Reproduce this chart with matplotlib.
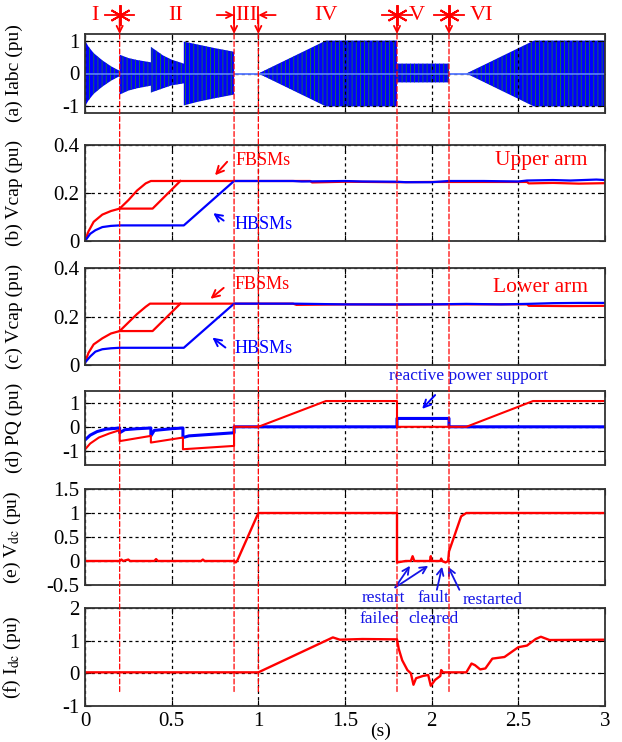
import matplotlib.pyplot as plt
from matplotlib.patches import ConnectionPatch

plt.rcParams['font.family'] = ['Liberation Serif', 'DejaVu Serif']
plt.rcParams['mathtext.fontset'] = 'stix'
plt.rcParams['hatch.linewidth'] = 0.6

RED = '#ff0000'
BLUE = '#0000ff'
TXT_BLUE = '#1414e6'

# (a) envelope of the three phase currents
env_t = [0, 0.02, 0.05, 0.1, 0.15, 0.2, 0.2, 0.25, 0.3, 0.38, 0.38, 0.45, 0.5, 0.57,
         0.57, 0.65, 0.75, 0.86, 0.86, 1.0, 1.39, 1.8, 1.8, 2.1, 2.1, 2.2, 2.59, 3.0]
env_top = [1.0, 0.82, 0.62, 0.4, 0.22, 0.08, 0.57, 0.47, 0.41, 0.34, 0.81, 0.55, 0.42, 0.3,
           0.97, 0.88, 0.77, 0.66, 0, 0, 1.0, 1.0, 0.3, 0.3, 0, 0, 1.0, 1.0]
env_bot = [-1.0, -0.82, -0.62, -0.4, -0.22, -0.08, -0.64, -0.52, -0.45, -0.37, -0.58, -0.45, -0.36, -0.3,
           -0.97, -0.86, -0.75, -0.64, 0, 0, -1.0, -1.0, -0.27, -0.27, 0, 0, -1.0, -1.0]

# (b) capacitor voltages, upper arm
b_fb1_t = [0, 0.02, 0.05, 0.1, 0.15, 0.2, 0.25, 0.3, 0.35, 0.38, 1.0, 1.3, 1.31, 1.5, 1.8, 2.0, 2.3, 2.55, 2.56, 2.7, 2.85, 3.0]
b_fb1_v = [0, 0.04, 0.08, 0.11, 0.125, 0.135, 0.17, 0.21, 0.24, 0.25, 0.25, 0.25, 0.244, 0.247, 0.245, 0.246, 0.246, 0.246, 0.24, 0.242, 0.239, 0.241]
b_fb2_t = [0.2, 0.39, 0.55]
b_fb2_v = [0.135, 0.135, 0.25]
b_hb_t = [0, 0.03, 0.06, 0.1, 0.15, 0.2, 0.57, 0.86, 1.2, 1.25, 1.5, 1.6, 1.8, 1.85, 2.0, 2.1, 2.3, 2.5, 2.55, 2.7, 2.8, 2.95, 3.0]
b_hb_v = [0, 0.03, 0.045, 0.058, 0.063, 0.065, 0.065, 0.25, 0.25, 0.248, 0.25, 0.248, 0.247, 0.245, 0.245, 0.25, 0.25, 0.248, 0.252, 0.254, 0.252, 0.256, 0.254]

# (c) capacitor voltages, lower arm
c_fb1_t = [0, 0.02, 0.05, 0.1, 0.15, 0.2, 0.25, 0.3, 0.35, 0.375, 1.2, 1.22, 1.5, 1.8, 2.0, 2.3, 2.55, 2.56, 2.8, 3.0]
c_fb1_v = [0.01, 0.05, 0.085, 0.11, 0.13, 0.14, 0.175, 0.21, 0.24, 0.253, 0.253, 0.248, 0.25, 0.249, 0.25, 0.25, 0.25, 0.244, 0.243, 0.244]
c_fb2_t = [0.2, 0.39, 0.55]
c_fb2_v = [0.14, 0.14, 0.253]
c_hb_t = [0, 0.03, 0.06, 0.1, 0.15, 0.2, 0.57, 0.86, 1.2, 1.5, 1.8, 2.0, 2.2, 2.4, 2.55, 2.7, 2.85, 3.0]
c_hb_v = [0.01, 0.035, 0.055, 0.065, 0.069, 0.071, 0.071, 0.253, 0.253, 0.25, 0.25, 0.25, 0.252, 0.25, 0.252, 0.255, 0.256, 0.256]

# (d) active / reactive power
p_t = [0, 0.03, 0.08, 0.14, 0.2, 0.2, 0.38, 0.38, 0.565, 0.565, 0.86, 0.86, 1.0, 1.39, 1.8, 1.8, 2.2, 2.585, 3.0]
p_v = [-0.95, -0.7, -0.45, -0.28, -0.14, -0.6, -0.38, -0.66, -0.45, -0.94, -0.8, 0, 0, 1.08, 1.08, 0, 0, 1.08, 1.08]
q_t = [0, 0.03, 0.07, 0.12, 0.2, 0.2, 0.23, 0.3, 0.38, 0.38, 0.4, 0.5, 0.565, 0.565, 0.6, 0.86, 0.86, 1.8, 1.8, 2.1, 2.1, 3.0]
q_v = [-0.55, -0.35, -0.2, -0.1, -0.05, -0.25, -0.12, -0.08, -0.05, -0.38, -0.15, -0.08, -0.05, -0.45, -0.38, -0.25, 0, 0, 0.35, 0.35, 0, 0]

# (e) dc voltage
vdc_t = [0, 0.2, 0.21, 0.22, 0.25, 0.26, 0.4, 0.41, 0.42, 0.67, 0.68, 0.69, 0.86, 0.87, 0.88, 1.0, 1.8,
         1.8, 1.85, 1.88, 1.89, 1.9, 1.99, 1.995, 2.0, 2.05, 2.055, 2.06, 2.08, 2.095, 2.1, 2.17, 2.2, 3.0]
vdc_v = [0, 0, 0.03, 0, 0.03, 0, 0, 0.04, 0, 0, 0.03, 0, 0, -0.03, 0.02, 1.0, 1.0,
         -0.03, 0, 0, 0.1, 0, 0, 0.1, 0, 0, 0.05, 0, -0.03, 0, 0.2, 0.93, 1.0, 1.0]

# (f) dc current
idc_t = [0, 1.0, 1.43, 1.47, 1.6, 1.8, 1.81, 1.83, 1.86, 1.88, 1.895, 1.91, 1.95, 1.98, 1.995, 2.02, 2.05,
         2.055, 2.065, 2.2, 2.23, 2.25, 2.28, 2.31, 2.35, 2.42, 2.5, 2.55, 2.6, 2.63, 2.68, 3.0]
idc_v = [0.03, 0.03, 1.1, 1.03, 1.05, 1.04, 0.75, 0.4, 0.1, 0.0, -0.35, -0.15, -0.08, -0.05, -0.38, -0.2, -0.08,
         0.1, 0.03, 0.03, 0.3, 0.25, 0.12, 0.15, 0.45, 0.5, 0.8, 0.85, 1.05, 1.12, 1.02, 1.03]

# stage markers on top of (a)
stage_names = ['I', 'II', 'III', 'IV', 'V', 'VI']
stage_pos = [0.055, 0.52, 0.93, 1.39, 1.915, 2.29]
star_t = [0.2, 1.8, 2.1]
bar_t = [0.86, 1.0]
event_t = [0.2, 0.86, 1.0, 1.8, 2.1]

W, H = 622, 742
fig = plt.figure(figsize=(W / 100, H / 100), dpi=100)


def make_axes(top, bottom):
    ax = fig.add_axes([85 / W, 1 - bottom / H, 520 / W, (bottom - top) / H])
    ax.set_facecolor('none')
    ax.set_xlim(0, 3)
    ax.set_xticks([0, 0.5, 1, 1.5, 2, 2.5, 3])
    ax.set_xticklabels([])
    ax.grid(True, color='k', linestyle=(0, (2.5, 2.5)), lw=0.9)
    ax.tick_params(direction='in', top=True, right=True, length=4, labelsize=15, pad=4)
    for s in ax.spines.values():
        s.set_linewidth(1.3)
        s.set_color('#333333')
    return ax


axa = make_axes(34, 113)
axb = make_axes(145, 241)
axc = make_axes(268, 365)
axd = make_axes(391, 465)
axe = make_axes(489, 585)
axf = make_axes(608, 706)

# (a)
axa.plot([0, 3], [0, 0], color='#5577ff', lw=1.3)
axa.fill_between(env_t, env_bot, env_top, facecolor=BLUE, edgecolor='#1f7a3c', hatch='||||', linewidth=0)
axa.set_ylim(-1.2, 1.2)
axa.set_yticks([-1, 0, 1])
axa.set_yticklabels(['-1', '0', '1'])

# (b)
axb.plot(b_fb1_t, b_fb1_v, color=RED, lw=1.6)
axb.plot(b_fb2_t, b_fb2_v, color=RED, lw=1.6)
axb.plot(b_hb_t, b_hb_v, color=BLUE, lw=1.6)
axb.set_ylim(0, 0.4)
axb.set_yticks([0, 0.2, 0.4])
axb.set_yticklabels(['0', '0.2', '0.4'])

# (c)
axc.plot(c_fb1_t, c_fb1_v, color=RED, lw=1.6)
axc.plot(c_fb2_t, c_fb2_v, color=RED, lw=1.6)
axc.plot(c_hb_t, c_hb_v, color=BLUE, lw=1.6)
axc.set_ylim(0, 0.4)
axc.set_yticks([0, 0.2, 0.4])
axc.set_yticklabels(['0', '0.2', '0.4'])

arrow_r = dict(arrowstyle='->', color=RED, lw=1.4, mutation_scale=13, shrinkA=0, shrinkB=0)
arrow_b = dict(arrowstyle='->', color=BLUE, lw=1.4, mutation_scale=13, shrinkA=0, shrinkB=0)

axb.annotate('', xy=(0.75, 0.274), xytext=(0.82, 0.33), arrowprops=arrow_r)
axb.text(0.87, 0.335, 'FBSMs', color=RED, fontsize=13, va='center')
axb.annotate('', xy=(0.74, 0.116), xytext=(0.80, 0.085), arrowprops=arrow_b)
axb.text(0.86, 0.07, 'HBSMs', color=BLUE, fontsize=13, va='center')
axb.text(2.63, 0.335, 'Upper arm', color=RED, fontsize=15.5, ha='center', va='center')

axc.annotate('', xy=(0.724, 0.273), xytext=(0.80, 0.318), arrowprops=arrow_r)
axc.text(0.86, 0.33, 'FBSMs', color=RED, fontsize=13, va='center')
axc.annotate('', xy=(0.735, 0.113), xytext=(0.81, 0.072), arrowprops=arrow_b)
axc.text(0.86, 0.068, 'HBSMs', color=BLUE, fontsize=13, va='center')
axc.text(2.63, 0.32, 'Lower arm', color=RED, fontsize=15.5, ha='center', va='center')

# (d)
axd.plot(q_t, q_v, color=BLUE, lw=2.2)
axd.plot(p_t, p_v, color=RED, lw=1.5)
axd.set_ylim(-1.6, 1.5)
axd.set_yticks([-1, 0, 1])
axd.set_yticklabels(['-1', '0', '1'])
axd.text(2.21, 2.14, 'reactive power support', color=TXT_BLUE, fontsize=12.5, ha='center', va='center')
axd.annotate('', xy=(1.945, 0.75), xytext=(2.02, 1.33), arrowprops=arrow_b)

# (e)
axe.plot(vdc_t, vdc_v, color=RED, lw=1.7)
axe.set_ylim(-0.5, 1.5)
axe.set_yticks([-0.5, 0, 0.5, 1, 1.5])
axe.set_yticklabels(['-0.5', '0', '0.5', '1', '1.5'])
ann = dict(arrowstyle='->', color=TXT_BLUE, lw=1.3, mutation_scale=12, shrinkA=0, shrinkB=0)
for head in [(1.875, -0.1), (1.98, -0.1)]:
    axe.annotate('', xy=head, xytext=(1.79, -0.55), arrowprops=ann, annotation_clip=False)
axe.annotate('', xy=(2.06, -0.12), xytext=(2.03, -0.6), arrowprops=ann, annotation_clip=False)
axe.annotate('', xy=(2.095, -0.12), xytext=(2.16, -0.6), arrowprops=ann, annotation_clip=False)
axe.text(1.72, -0.77, 'restart', color=TXT_BLUE, fontsize=12.5, ha='center', va='center')
axe.text(2.01, -0.77, 'fault', color=TXT_BLUE, fontsize=12.5, ha='center', va='center')
axe.text(2.35, -0.81, 'restarted', color=TXT_BLUE, fontsize=12.5, ha='center', va='center')
axe.text(1.70, -1.21, 'failed', color=TXT_BLUE, fontsize=12.5, ha='center', va='center')
axe.text(2.01, -1.21, 'cleared', color=TXT_BLUE, fontsize=12.5, ha='center', va='center')

# (f)
axf.plot(idc_t, idc_v, color=RED, lw=1.7)
axf.set_ylim(-1, 2)
axf.set_yticks([-1, 0, 1, 2])
axf.set_yticklabels(['-1', '0', '1', '2'])
axf.set_xticklabels(['0', '0.5', '1', '1.5', '2', '2.5', '3'])
fig.text(381 / W, 2 / H, '(s)', fontsize=14, ha='center', va='bottom')

labels = ['(a) Iabc (pu)', '(b) Vcap (pu)', '(c) Vcap (pu)', '(d) PQ (pu)',
          '(e) V$_{\\mathrm{dc}}$ (pu)', '(f) I$_{\\mathrm{dc}}$ (pu)']
for ax, lab in zip([axa, axb, axc, axd, axe, axf], labels):
    ax.set_ylabel(lab, fontsize=14)
    ax.yaxis.set_label_coords(-0.12, 0.5)

# stage markers above (a)
tr = axa.get_xaxis_transform()
ym = 1.24
down = dict(arrowstyle='->', color=RED, lw=1.3, mutation_scale=11, shrinkA=0, shrinkB=0)
for x in star_t:
    axa.plot([x - 0.085, x + 0.085], [ym, ym], color=RED, lw=1.3, transform=tr, clip_on=False)
    axa.plot(x, ym, marker=(6, 2, 0), ms=15, mew=1.4, color=RED, transform=tr, clip_on=False)
    axa.annotate('', xy=(x, 1.0), xytext=(x, ym), xycoords=tr, textcoords=tr, arrowprops=down)
for x, side in zip(bar_t, [-1, 1]):
    axa.annotate('', xy=(x, ym), xytext=(x + side * 0.1, ym), xycoords=tr, textcoords=tr, arrowprops=down)
    axa.plot([x, x], [ym - 0.1, ym + 0.1], color=RED, lw=1.3, transform=tr, clip_on=False)
    axa.annotate('', xy=(x, 1.0), xytext=(x, ym), xycoords=tr, textcoords=tr, arrowprops=down)
for name, x in zip(stage_names, stage_pos):
    axa.text(x, ym, name, color=RED, fontsize=16, ha='center', va='center', transform=tr)

# event lines running through all panels
for x in event_t:
    con = ConnectionPatch(xyA=(x, 1.0), coordsA=axa.get_xaxis_transform(),
                          xyB=(x, -0.6), coordsB=axf.transData,
                          color=RED, lw=0.9, linestyle=(0, (4, 2)))
    fig.add_artist(con)

fig.savefig('out.png', dpi=100)
